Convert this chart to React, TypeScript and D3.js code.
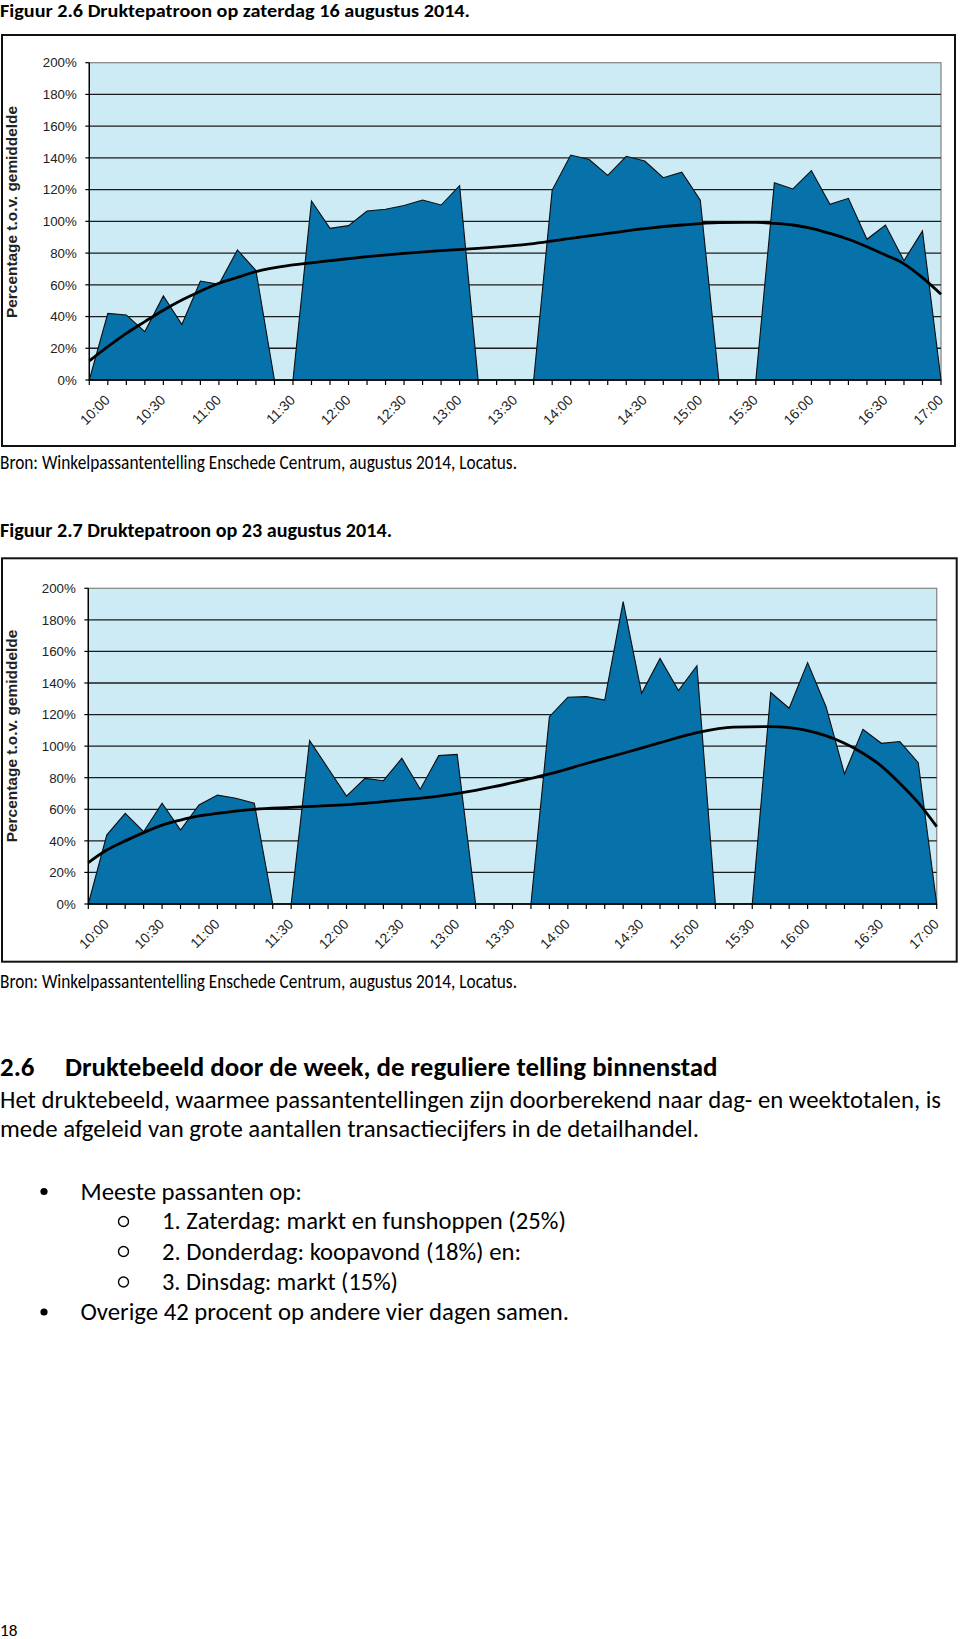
import React from 'react';
import * as d3 from 'd3';

// ---------- DATA ----------
// 47 time slots (category positions on the x axis)
const slots: number[] = [
  0, 1, 2, 3, 4, 5, 6, 7, 8, 9, 10, 11, 12, 13, 14, 15, 16, 17, 18, 19, 20, 21, 22, 23,
  24, 25, 26, 27, 28, 29, 30, 31, 32, 33, 34, 35, 36, 37, 38, 39, 40, 41, 42, 43, 44, 45, 46,
];

const tickLabels: string[] = [
  '10:00', '10:30', '11:00', '11:30', '12:00', '12:30', '13:00', '13:30',
  '14:00', '14:30', '15:00', '15:30', '16:00', '16:30', '17:00',
];
const tickLabelSlots: number[] = [1, 4, 7, 11, 14, 17, 20, 23, 26, 30, 33, 36, 39, 43, 46];

const yTicks: number[] = [0, 20, 40, 60, 80, 100, 120, 140, 160, 180, 200];

// Figuur 2.6 – zaterdag 16 augustus 2014 (percentage t.o.v. gemiddelde)
const aug16: number[] = [
  0, 42, 41, 30.5, 53, 35, 62.4, 60.3, 82, 69, 0, 0, 112.8, 95.6, 97.3, 106.5, 107.6, 110,
  113.4, 110.3, 122.5, 0, 0, 0, 0, 119.7, 141.8, 139, 129, 141, 138, 127.5, 131, 113.4, 0,
  0, 0, 124.4, 120.4, 132, 110.7, 114.5, 88.7, 97.7, 75.2, 94, 0,
];
// trendline read at slot positions [slot, value]
const aug16Trend: [number, number][] = [
  [0, 12], [1, 21], [2, 29.4], [3, 36.8], [4, 44], [5, 50.4], [6, 56], [7, 61], [8, 64.7],
  [9, 68.3], [11, 72.5], [13, 75.2], [15, 77.7], [17, 79.8], [19, 81.5], [21, 83], [24, 86],
  [26, 89.3], [28, 92.4], [30, 95.4], [32, 97.7], [34, 99.2], [36, 99.4], [37, 98.7],
  [38, 97.7], [39, 95.6], [40, 92.4], [41, 88.7], [42, 84], [43, 78.8], [44, 73.2],
  [45, 64.5], [46, 54],
];

// Figuur 2.7 – 23 augustus 2014
const aug23: number[] = [
  0, 43.7, 57.4, 45.8, 63.8, 46.9, 62.7, 69, 67, 63.8, 0, 0, 103.5, 86, 68.4, 79.6, 78.1,
  92.3, 72.7, 94, 94.8, 0, 0, 0, 0, 118.7, 131, 131.4, 129.2, 191.6, 133.5, 155.6, 135.2,
  151, 0, 0, 0, 134, 124, 152.9, 125, 82.4, 110.7, 101.8, 102.9, 89.5, 0,
];
const aug23Trend: [number, number][] = [
  [0, 26.2], [1, 34.2], [2, 40], [3, 45.2], [4, 50], [5, 53.2], [6, 55.8], [7, 57.4],
  [8, 58.9], [9, 60], [11, 61.2], [13, 62.3], [15, 63.8], [17, 65.9], [19, 68.4], [21, 72],
  [22, 74.3], [24, 79.6], [25, 82.4], [27, 89], [29, 95.5], [31, 102.2], [33, 108.5],
  [35, 112], [37, 112.4], [38, 111.7], [39, 109.8], [41, 101.8], [42, 95.5], [43, 87.4],
  [44, 76.5], [45, 64.2], [46, 49],
];

// ---------- STYLE ----------
const BG = '#CDEBF5';
const AREA = '#0672A9';
const CHART_FONT = "'Liberation Sans', Arial, sans-serif";
const DOC_FONT = "Carlito, Calibri, Lato, 'Open Sans', sans-serif";

type ChartProps = {
  values: number[];
  trend: [number, number][];
  box: [number, number, number, number];
  plot: { left: number; top: number; right: number; bottom: number };
  titleCenter: number;
  titleLen: number;
};

function AreaChart({ values, trend, box, plot, titleCenter, titleLen }: ChartProps) {
  const x = d3.scaleLinear().domain([0, slots.length - 1]).range([plot.left, plot.right]);
  const y = d3.scaleLinear().domain([0, 200]).range([plot.bottom, plot.top]);

  const area = d3
    .area<number>()
    .x((_, i) => x(slots[i]))
    .y0(y(0))
    .y1((d) => y(d));
  const line = d3
    .line<[number, number]>()
    .x((d) => x(d[0]))
    .y((d) => y(d[1]))
    .curve(d3.curveMonotoneX);

  return (
    <g>
      <rect
        x={box[0]}
        y={box[1]}
        width={box[2] - box[0]}
        height={box[3] - box[1]}
        fill="#fff"
        stroke="#111"
        strokeWidth={2}
      />
      <rect
        x={plot.left}
        y={plot.top}
        width={plot.right - plot.left}
        height={plot.bottom - plot.top}
        fill={BG}
        stroke="#8a8a8a"
        strokeWidth={1.3}
      />
      {yTicks
        .filter((t) => t > 0 && t < 200)
        .map((t) => (
          <line
            key={'g' + t}
            x1={plot.left}
            x2={plot.right}
            y1={y(t)}
            y2={y(t)}
            stroke="#1c1c1c"
            strokeWidth={1.3}
          />
        ))}
      <path d={area(values) || ''} fill={AREA} stroke="#0d0d0d" strokeWidth={1.1} strokeLinejoin="miter" />
      <path d={line(trend) || ''} fill="none" stroke="#000" strokeWidth={2.8} />
      {/* axes */}
      <line x1={plot.left} x2={plot.left} y1={plot.top} y2={plot.bottom} stroke="#000" strokeWidth={1.4} />
      <line x1={plot.left} x2={plot.right} y1={plot.bottom} y2={plot.bottom} stroke="#000" strokeWidth={1.4} />
      {yTicks.map((t) => (
        <g key={'y' + t}>
          <line x1={plot.left - 4} x2={plot.left} y1={y(t)} y2={y(t)} stroke="#000" strokeWidth={1.2} />
          <text
            x={plot.left - 12.5}
            y={y(t)}
            dy="0.36em"
            textAnchor="end"
            fontFamily={CHART_FONT}
            fontSize={13.3}
            fill="#222"
          >
            {t + '%'}
          </text>
        </g>
      ))}
      {slots.map((s) => (
        <line
          key={'x' + s}
          x1={x(s)}
          x2={x(s)}
          y1={plot.bottom}
          y2={plot.bottom + 5}
          stroke="#000"
          strokeWidth={1.2}
        />
      ))}
      {tickLabels.map((lab, i) => {
        const ax = x(tickLabelSlots[i]) + 3;
        const ay = plot.bottom + 21;
        return (
          <text
            key={'l' + lab}
            x={ax}
            y={ay}
            transform={`rotate(-45 ${ax} ${ay})`}
            textAnchor="end"
            fontFamily={CHART_FONT}
            fontSize={14}
            fill="#222"
          >
            {lab}
          </text>
        );
      })}
      <text
        x={11.5}
        y={titleCenter}
        transform={`rotate(-90 11.5 ${titleCenter})`}
        dy="0.36em"
        textAnchor="middle"
        fontFamily={CHART_FONT}
        fontWeight="bold"
        fontSize={15}
        fill="#222"
        textLength={titleLen}
        lengthAdjust="spacingAndGlyphs"
      >
        Percentage t.o.v. gemiddelde
      </text>
    </g>
  );
}

type TProps = { x: number; y: number; w: number; size: number; bold?: boolean; children: string };
function T({ x, y, w, size, bold, children }: TProps) {
  return (
    <text
      x={x}
      y={y}
      fontFamily={DOC_FONT}
      fontSize={size}
      fontWeight={bold ? 'bold' : 'normal'}
      fill="#000"
      textLength={w}
      lengthAdjust="spacingAndGlyphs"
    >
      {children}
    </text>
  );
}

export default function App() {
  return (
    <svg
      width={960}
      height={1639}
      viewBox="0 0 960 1639"
      style={{ position: 'absolute', left: 0, top: 0, background: '#fff' }}
    >
      <rect width={960} height={1639} fill="#fff" />
      <T x={0} y={16.5} w={470} size={18.5} bold>
        Figuur 2.6 Druktepatroon op zaterdag 16 augustus 2014.
      </T>
      <AreaChart
        values={aug16}
        trend={aug16Trend}
        box={[2, 35, 955, 446]}
        plot={{ left: 89.3, top: 62.7, right: 941, bottom: 380 }}
        titleCenter={212}
        titleLen={212}
      />
      <T x={0} y={469} w={517} size={19.5}>
        Bron: Winkelpassantentelling Enschede Centrum, augustus 2014, Locatus.
      </T>

      <T x={0} y={536.5} w={392} size={20} bold>
        Figuur 2.7 Druktepatroon op 23 augustus 2014.
      </T>
      <AreaChart
        values={aug23}
        trend={aug23Trend}
        box={[2, 558.3, 956.7, 961.7]}
        plot={{ left: 88.3, top: 588.3, right: 936.7, bottom: 904 }}
        titleCenter={736}
        titleLen={212.7}
      />
      <T x={0} y={988} w={517} size={19.5}>
        Bron: Winkelpassantentelling Enschede Centrum, augustus 2014, Locatus.
      </T>

      <T x={0} y={1076} w={34.5} size={26} bold>
        2.6
      </T>
      <T x={65} y={1076} w={652.5} size={26} bold>
        Druktebeeld door de week, de reguliere telling binnenstad
      </T>
      <T x={0} y={1107.5} w={941} size={24.5}>
        Het druktebeeld, waarmee passantentellingen zijn doorberekend naar dag- en weektotalen, is
      </T>
      <T x={0} y={1137} w={699} size={24.5}>
        mede afgeleid van grote aantallen transactiecijfers in de detailhandel.
      </T>

      <circle cx={44} cy={1191.5} r={3.6} fill="#000" />
      <T x={80.5} y={1199.5} w={221.5} size={24.5}>
        Meeste passanten op:
      </T>
      <circle cx={123.5} cy={1221.5} r={5} fill="none" stroke="#000" strokeWidth={1.4} />
      <T x={162} y={1229} w={404} size={24.5}>
        1. Zaterdag: markt en funshoppen (25%)
      </T>
      <circle cx={123.5} cy={1251.5} r={5} fill="none" stroke="#000" strokeWidth={1.4} />
      <T x={162} y={1259.5} w={359} size={24.5}>
        2. Donderdag: koopavond (18%) en:
      </T>
      <circle cx={123.5} cy={1282} r={5} fill="none" stroke="#000" strokeWidth={1.4} />
      <T x={162} y={1289.5} w={236} size={24.5}>
        3. Dinsdag: markt (15%)
      </T>
      <circle cx={44} cy={1312} r={3.6} fill="#000" />
      <T x={80.5} y={1320} w={488.5} size={24.5}>
        Overige 42 procent op andere vier dagen samen.
      </T>

      <T x={0} y={1636} w={17.5} size={16.5}>
        18
      </T>
    </svg>
  );
}
